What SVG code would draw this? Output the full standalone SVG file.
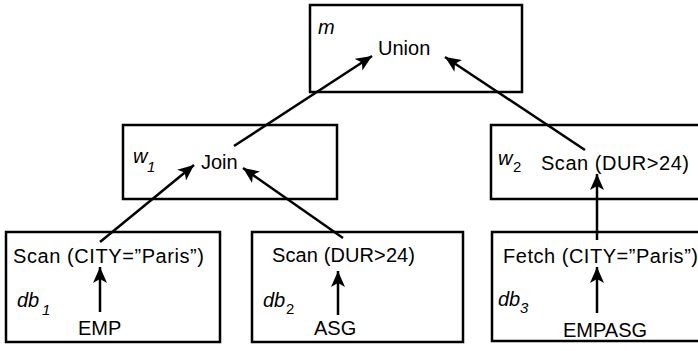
<svg xmlns="http://www.w3.org/2000/svg" width="698" height="351" viewBox="0 0 698 351">
<defs>
<style>
.box{fill:#fff;stroke:#000;stroke-width:2.5}
.t{font-family:"Liberation Sans",Arial,sans-serif;font-size:20px;fill:#000}
.i{font-family:"Liberation Sans",Arial,sans-serif;font-size:20px;font-style:italic;fill:#000}
.s{font-family:"Liberation Sans",Arial,sans-serif;font-size:15px;fill:#000}
.c{stroke:#000;stroke-width:2.5;fill:none;marker-end:url(#ah)}
</style>
<marker id="ah" markerUnits="userSpaceOnUse" markerWidth="18" markerHeight="14" refX="16" refY="7" orient="auto">
<path d="M0,0 L16,7 L0,14 L4,7 Z" fill="#000"/>
</marker>
</defs>
<rect width="698" height="351" fill="#fff"/>
<g id="node-m">
<rect class="box" x="310" y="5" width="212" height="87"/>
<text class="i" x="318" y="34">m</text>
<text class="t" x="378" y="55">Union</text>
</g>
<g id="node-w1">
<rect class="box" x="123" y="125" width="214" height="74"/>
<text class="i" x="133" y="163">w</text><text class="s" font-style="italic" x="147" y="172">1</text>
<text class="t" x="201" y="169">Join</text>
</g>
<g id="node-w2">
<rect class="box" x="491" y="125" width="220" height="74"/>
<text class="i" x="498" y="165">w</text><text class="s" x="513" y="172">2</text>
<text class="t" x="541" y="170" textLength="148">Scan (DUR&gt;24)</text>
</g>
<g id="node-db1">
<rect class="box" x="6" y="232" width="214" height="110"/>
<text class="t" x="13" y="263" textLength="191">Scan (CITY=”Paris”)</text>
<text class="i" x="17" y="307">db</text><text class="s" font-style="italic" x="42" y="315">1</text>
<text class="t" x="78" y="335">EMP</text>
</g>
<g id="node-db2">
<rect class="box" x="252" y="232" width="211" height="110"/>
<text class="t" x="272" y="262" textLength="143">Scan (DUR&gt;24)</text>
<text class="i" x="263" y="307">db</text><text class="s" x="286" y="314">2</text>
<text class="t" x="314" y="335">ASG</text>
</g>
<g id="node-db3">
<rect class="box" x="492" y="232" width="220" height="109"/>
<text class="t" x="503" y="263" textLength="195">Fetch (CITY=”Paris”)</text>
<text class="i" x="498" y="306">db</text><text class="s" font-style="italic" x="520" y="313">3</text>
<text class="t" x="563" y="337">EMPASG</text>
</g>
<g id="connectors">
<line class="c" x1="234" y1="146" x2="372" y2="56"/>
<line class="c" x1="585" y1="150" x2="445" y2="57"/>
<line class="c" x1="100" y1="242" x2="194" y2="165"/>
<line class="c" x1="343" y1="238" x2="243" y2="168"/>
<line class="c" x1="597" y1="240" x2="597" y2="174"/>
<line class="c" x1="100" y1="312" x2="100" y2="267"/>
<line class="c" x1="338" y1="315" x2="338" y2="271"/>
<line class="c" x1="597" y1="313" x2="597" y2="267"/>
</g>
</svg>
